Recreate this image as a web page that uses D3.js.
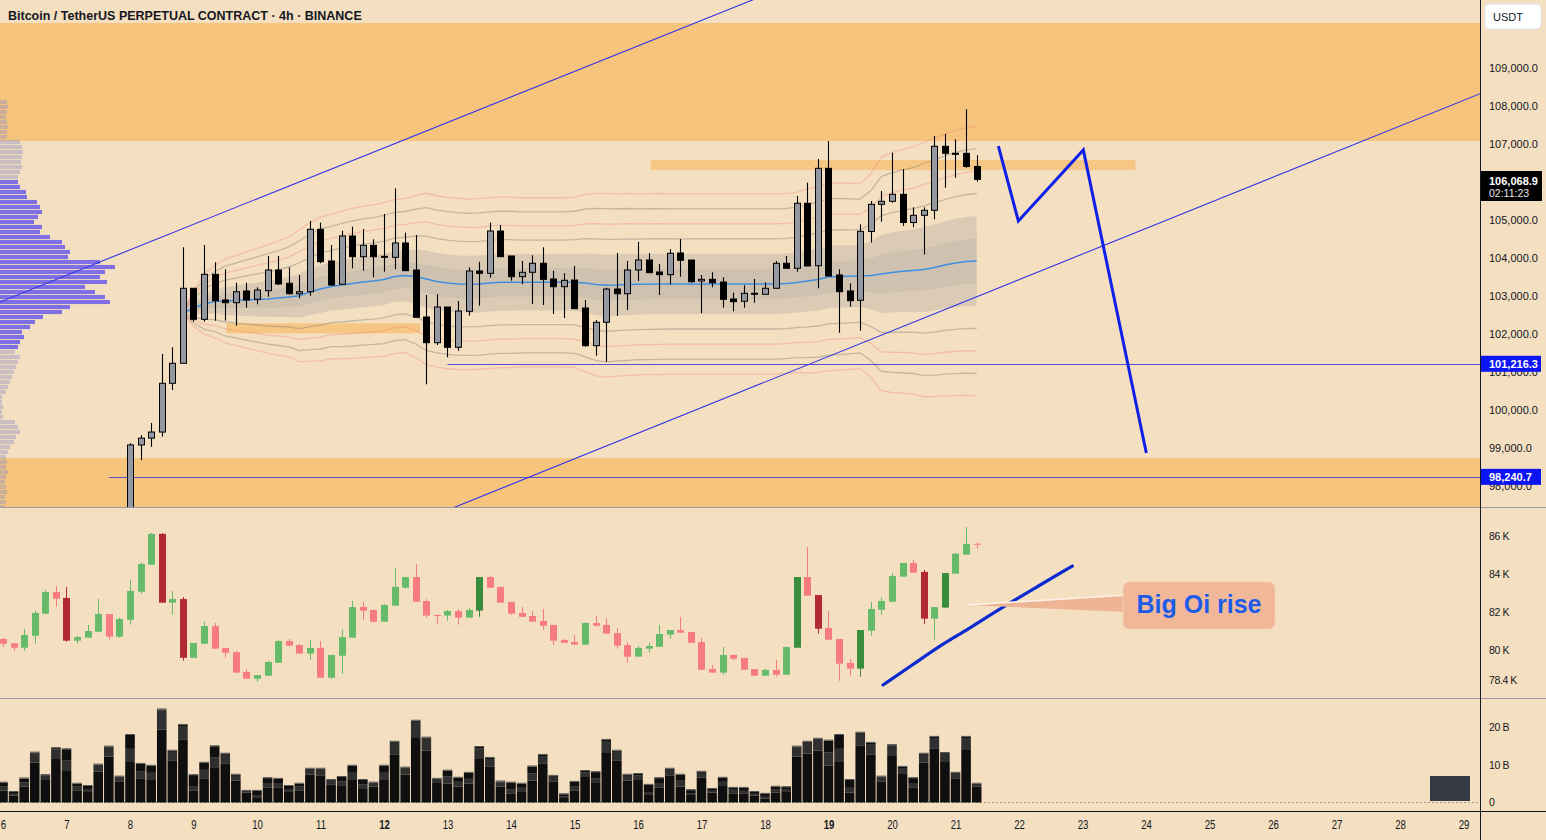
<!DOCTYPE html>
<html><head><meta charset="utf-8">
<script src="https://cdn.jsdelivr.net/npm/d3@7/dist/d3.min.js"></script>
<style>
html,body{margin:0;padding:0;background:#f4dfc1;overflow:hidden;}
svg{display:block;}
text{font-family:"Liberation Sans","DejaVu Sans",sans-serif;}
</style></head><body>
<svg id="c" width="1546" height="840"></svg>
<script>
// ---------------- DATA ----------------
const title = "Bitcoin / TetherUS PERPETUAL CONTRACT · 4h · BINANCE";
const dayLabels = [6,7,8,9,10,11,12,13,14,15,16,17,18,19,20,21,22,23,24,25,26,27,28,29];
const boldDays = [12,19];
const barsPerDay = 6;               // 4h bars, bar 0 = day 6 00:00
const priceTicks = [98000,99000,100000,101000,102000,103000,104000,105000,106000,107000,108000,109000];
const oiTicks = [78.4,80,82,84,86];
const volTicks = [0,10,20];

// price candles start at bar 12 (day 8 00:00)
const priceStart = 12;
const pOpen  = [97300,99080,99260,99420,100703,101229,103203,102387,103571,102895,102824,103132,102913,103139,103684,103334,103060,103113,104755,103921,103308,104579,104034,104334,104045,104018,104395,103684,102447,101771,102710,101650,102597,103658,103597,104710,104053,103508,103624,103861,103447,103245,103421,102684,101692,102308,103184,103060,103684,103947,103632,103561,104132,103947,103395,103439,103368,102921,102861,103071,103045,103203,103861,103729,105440,103797,106360,103553,103132,102887,104697,105413,105492,105676,104934,105124,105255,106940,106755,106755,106408];
const pHigh  = [99130,99340,99660,101474,101650,104282,103203,104342,103887,103703,103350,103350,103229,104053,104053,103755,103553,104974,104929,104342,104718,104824,104763,104492,105158,105834,104666,104605,103026,103045,102710,102868,103755,103903,104929,104868,104053,103921,104071,104282,103666,103597,103790,102895,102368,103218,104132,103921,104421,104132,103842,104237,104500,103947,103553,103624,103492,103087,103282,103447,103360,103921,104053,105632,105982,106605,107079,103703,103334,104887,105500,105763,106771,106342,105334,105334,107211,107263,107124,107913,106703];
const pLow   = [97200,98680,99030,99300,100526,101229,102324,102324,102350,102350,102218,102692,102782,102982,103289,103045,102940,103008,103861,103263,103308,103729,103666,103492,103640,103703,103666,102440,100676,101710,101387,101560,102482,102745,103482,104034,103403,103308,102789,102763,102526,102421,102666,101666,101429,101271,102474,102632,103395,103613,103026,103308,103508,103350,102545,103229,102692,102597,102692,102824,103045,103203,103729,103640,103790,103203,103526,102034,102718,102087,104408,104955,105455,104842,104808,104092,105018,105850,106113,106376,106008];
const pClose = [99080,99260,99420,100703,101229,103203,102387,103571,102876,102824,103113,102895,103158,103684,103316,103060,103113,104755,103903,103289,104579,104034,104334,104034,104040,104395,103666,102440,101771,102710,101650,102605,103658,103597,104710,104034,103508,103624,103861,103439,103245,103413,102666,101692,102308,103184,103060,103684,103947,103613,103561,104124,103940,103376,103439,103350,102913,102850,103071,103071,103203,103861,103729,105440,103790,106360,103526,103113,102876,104703,105413,105492,105676,104934,105124,105255,106940,106755,106755,106408,106069];

// anchored VWAP and its standard deviation, starting at price candle 5
const vwapStart = priceStart + 5;
const vwap = [102553,102684,102789,102855,102868,102882,102895,102908,102921,102947,102974,103008,103105,103184,103250,103289,103329,103368,103395,103434,103513,103539,103513,103447,103382,103342,103316,103308,103316,103342,103360,
  103360,103360,103360,103360,103360,103360,103360,
  103342,103303,103282,103289,103303,103308,103311,
  103316,103316,103316,103316,103316,103316,103316,103316,103316,103316,103316,103316,
  103329,103355,103395,103434,103500,103513,103518,103526,103539,103579,103618,103650,103671,103697,103750,103816,103868,103908,103921];
const vwapSigma = [0,79,132,158,184,197,211,224,237,250,263,289,303,316,316,324,329,332,334,337,337,337,355,376,376,376,376,374,374,374,374,374,371,371,371,371,371,374,389,400,403,400,400,397,397,397,
  395,395,395,395,395,395,395,395,395,395,395,395,
  395,403,408,411,411,408,405,447,513,526,534,542,558,566,574,582,587,592];
const shadeMult = [2,1];
const lineMultGray = [3,5];
const lineMultPink = [4,6];

// open interest candles (thousands), from bar 0
const oiOpen  = [80.58,80.35,80.12,80.75,81.91,83.05,82.74,80.49,80.65,80.96,81.89,80.70,81.59,83.07,84.49,86.11,82.49,82.68,79.59,80.33,81.26,80.11,79.89,78.84,78.49,78.65,79.33,80.47,80.26,79.81,80.11,78.54,79.70,80.65,82.26,82.11,81.49,82.33,83.28,83.84,82.58,81.84,81.81,82.05,81.70,82.07,83.84,83.32,82.53,81.95,81.79,81.53,81.32,80.53,80.42,80.28,81.42,81.32,80.89,80.26,79.65,80.07,80.17,80.81,81.05,80.95,80.42,79.00,78.81,79.74,79.58,79.00,78.65,78.95,78.70,80.12,83.84,82.89,81.16,80.58,79.32,79.02,81.02,82.12,82.54,83.86,84.58,84.11,81.65,82.23,84.02,85.02,85.59];
const oiHigh  = [80.63,80.35,81.11,82.05,83.16,83.37,83.32,80.74,81.32,82.68,81.89,81.70,83.68,84.59,86.16,86.16,83.11,82.79,80.37,81.47,81.42,80.11,79.96,79.00,78.68,79.42,80.53,80.58,80.32,80.53,80.47,79.74,81.05,82.58,82.53,82.11,82.42,84.32,83.84,84.53,82.68,81.89,82.11,82.16,82.21,83.84,83.89,83.32,82.53,82.26,82.05,82.16,81.32,80.59,80.79,81.47,81.79,81.68,81.16,80.42,80.21,80.37,81.32,81.05,81.74,80.95,80.63,79.21,80.16,79.74,79.58,79.00,79.00,79.47,80.16,83.84,85.42,82.89,82.05,80.58,79.53,81.05,82.53,82.74,84.05,84.58,84.74,84.21,82.26,84.05,85.12,86.47,85.65];
const oiLow   = [80.16,79.96,79.96,80.33,81.91,82.28,80.44,80.33,80.65,80.96,80.54,80.65,81.33,82.96,84.49,82.49,81.86,79.44,79.59,80.33,80.07,79.59,78.81,78.49,78.33,78.65,79.33,80.23,79.81,79.49,78.54,78.49,78.75,80.65,81.59,81.44,81.49,82.33,83.23,82.54,81.70,81.38,81.54,81.33,81.70,81.75,83.28,82.49,81.86,81.75,81.49,81.07,80.26,80.38,80.28,80.28,81.23,80.86,80.07,79.33,79.65,79.86,80.17,80.59,80.91,80.38,78.96,78.81,78.70,79.49,78.96,78.65,78.65,78.59,78.70,80.12,82.86,80.86,80.54,78.38,78.65,78.59,80.75,81.86,82.54,83.86,84.07,81.38,80.54,82.23,84.02,85.02,85.33];
const oiClose = [80.33,80.12,80.79,81.95,83.05,82.70,80.49,80.68,81.00,81.89,80.70,81.63,83.11,84.53,86.11,82.49,82.68,79.59,80.37,81.26,80.07,79.86,78.81,78.49,78.68,79.37,80.47,80.23,79.81,80.11,78.54,79.74,80.68,82.26,82.07,81.49,82.37,83.32,83.84,82.54,81.81,81.81,82.05,81.70,82.11,83.84,83.28,82.49,81.91,81.75,81.49,81.28,80.49,80.38,80.28,81.42,81.28,80.86,80.23,79.65,80.11,80.21,80.84,81.05,80.91,80.38,78.96,78.81,79.74,79.54,78.96,78.65,78.95,78.70,80.16,83.84,82.86,81.12,80.54,79.28,79.02,81.05,82.16,82.58,83.89,84.58,84.07,81.65,82.26,84.05,85.07,85.58,85.54];
const oiStrongChange = 1.7;

// volume (billions), stacked in three parts, from bar 0
const volBase = [3.2,1.8,4.2,10.6,6.0,11.6,8.4,3.1,2.8,8.2, 12.2,5.5,10.8,6.3,6.0,19.4,11.1,16.7,3.1,6.3, 9.2,10.3,5.8,2.6,1.2,3.9,3.9,2.8,3.1,7.4, 7.1,4.7,4.4,6.0,3.6,4.2,6.0,12.7,7.4,17.2, 13.8,5.2,5.0,4.2,5.0,11.6,9.5,4.2,2.3,2.8, 5.8,10.3,5.5,1.2,3.1,6.8,5.2,13.2,11.1,5.8, 6.0,2.0,3.9,7.1,4.2,2.0,6.6,2.6,4.4,2.3, 2.3,1.8,1.0,2.6,2.8,12.2,13.0,13.8,9.8,10.8, 2.6,15.1,12.7,5.5,12.4,7.6,3.9,10.6,14.3,10.8, 6.3,14.0,4.2];
const volMid  = [1.0,0.5,1.1,2.4,1.3,2.6,2.9,1.1,0.8,1.9, 2.4,1.1,3.5,1.9,1.9,5.1,2.4,3.7,1.3,2.4, 2.9,2.4,1.3,0.5,0.8,1.3,1.3,0.8,1.1,1.6, 1.9,1.3,1.3,1.9,1.3,1.1,1.9,3.2,1.6,4.3, 3.2,1.1,1.9,1.3,1.3,2.9,2.1,1.1,1.1,1.1, 1.9,2.1,1.6,0.5,1.3,1.3,1.3,3.2,2.4,1.3, 1.3,0.8,1.3,1.6,1.6,0.5,1.3,0.5,1.1,1.3, 0.8,0.5,0.5,0.8,0.8,2.4,2.9,3.2,3.5,3.5, 1.3,3.2,2.9,1.1,2.9,1.6,1.3,2.1,2.9,2.4, 1.6,3.2,0.8];
const volTop  = [1.1,0.5,1.1,0.3,0,0.3,2.9,0.8,0.8,0, 0.3,0.3,3.7,2.1,1.9,0.3,0.3,0.3,2.9,1.9, 2.9,0.3,0.3,0,1.1,1.3,1.1,0.8,0.8,0, 0,0,1.1,1.9,1.1,0,1.9,0.3,0.3,0.3, 0.3,0,1.6,1.1,1.6,0.3,0.3,0.3,1.9,1.1, 1.9,0.3,0,0.5,1.1,0.3,1.6,0.3,0.3,0.3, 0.3,1.9,1.3,0.3,1.6,0.8,0.3,0.5,1.1,0.3, 0.8,0.5,0.8,0.8,0.5,0.3,0.3,0,3.2,3.7, 2.1,0.3,0.3,0.3,0,0.3,1.3,0.3,0.3,0, 0,0.3,0];

// visible-range volume profile (rows from top price downwards)
const profileTop = 108160, profileStep = 131.6;
const profileVol = [7,8,7,6,7,8,7,7, 20,22,23,22,21,22,20,18, 18,20,26,27, 37,40,42,38, 34,42,40, 50,62,65, 70,68, 100,115, 105,100,107, 85,95, 105,110, 70,62, 43,35,30, 22,24,20,18, 15,20,18,16,14,12,10,8,6, 2,2,3,2,3, 15,18,20,16,14, 10,8,6, 7,6,8,6,5,6,7,5,6,5];
const valueAreaHigh = 106105, valueAreaLow = 101579;

// zones (price ranges, bar ranges)
const zoneTop    = [110184, 98737, 106579, 102282];
const zoneBottom = [107079, 97000, 106316, 102018];
const zoneFrom   = [-2, -2, 61.2, 21.1];
const zoneTo     = [140, 140, 107, 39.4];

// horizontal levels
const levelPrice = [101216.3, 98240.7];
const levelFrom  = [42, 10];

// trend lines: two anchors each (bar, price)
const trendA = [[-0.28,102842],[70.8,110789]];
const trendB = [[42.72,97447],[139.5,108316]];

// projected path (bar, price)
const projPath = [[94.05,106947],[95.94,104974],[102.08,106842],[108.03,98868]];
// drawn OI rise line (bar, OI K)
const oiRise = [[83.15,78.16],[86.36,79.38],[88.88,80.35],[91.09,81.05],[94.23,82.19],[98.0,83.42],[101.04,84.42]];

const lastPrice = 106068.9, countdown = "02:11:23";

// ---------------- DRAW ----------------
const W = 1546, H = 840, PR = 1480;
const BG = '#f4dfc1', TXT = '#131722';
const svg = d3.select('#c');

const xBar = d3.scaleLinear().domain([0, 138]).range([3, 3 + 138 * 10.5833]);
const yP = d3.scaleLinear().domain([98000, 109000]).range([486, 68]);
const yOI = d3.scaleLinear().domain([80, 86]).range([650, 536]);
const yV = d3.scaleLinear().domain([0, 20]).range([802.5, 727.5]);
const xProf = d3.scaleLinear().domain([0, 120]).range([0, 120]);

svg.append('rect').attr('width', W).attr('height', H).attr('fill', BG);

const defs = svg.append('defs');
defs.append('clipPath').attr('id', 'cm').append('rect').attr('x', 0).attr('y', 0).attr('width', PR).attr('height', 507);
defs.append('clipPath').attr('id', 'co').append('rect').attr('x', 0).attr('y', 508).attr('width', PR).attr('height', 190);
defs.append('clipPath').attr('id', 'cv').append('rect').attr('x', 0).attr('y', 699).attr('width', PR).attr('height', 112);

// ---- main pane
const gm = svg.append('g').attr('clip-path', 'url(#cm)');

zoneTop.forEach((t, k) => {
  gm.append('rect')
    .attr('x', xBar(zoneFrom[k])).attr('width', xBar(zoneTo[k]) - xBar(zoneFrom[k]))
    .attr('y', yP(t)).attr('height', yP(zoneBottom[k]) - yP(t))
    .attr('fill', '#f6c47d').attr('opacity', k < 2 ? 1 : 0.9);
});

// volume profile
profileVol.forEach((v, k) => {
  const pHi = profileTop - k * profileStep, pLo = pHi - profileStep;
  const mid = (pHi + pLo) / 2;
  const inVA = mid <= valueAreaHigh && mid >= valueAreaLow;
  gm.append('rect').attr('x', 0).attr('y', yP(pHi))
    .attr('width', xProf(v)).attr('height', Math.max(0.5, yP(pLo) - yP(pHi) - 0.9))
    .attr('fill', inVA ? 'rgba(105,92,235,0.85)' : 'rgba(150,150,195,0.45)');
});

// VWAP bands
const vIdx = d3.range(vwap.length);
const area = (m) => d3.area().x(k => xBar(vwapStart + k)).y0(k => yP(vwap[k] - m * vwapSigma[k])).y1(k => yP(vwap[k] + m * vwapSigma[k]));
gm.append('path').attr('d', area(shadeMult[0])(vIdx)).attr('fill', 'rgba(95,105,125,0.17)');
gm.append('path').attr('d', area(shadeMult[1])(vIdx)).attr('fill', 'rgba(95,105,125,0.10)');
const bandLine = (m) => d3.line().x(k => xBar(vwapStart + k)).y(k => yP(vwap[k] + m * vwapSigma[k]));
lineMultGray.forEach(m => [m, -m].forEach(mm => gm.append('path').attr('d', bandLine(mm)(vIdx)).attr('fill', 'none').attr('stroke', 'rgba(110,105,100,0.35)').attr('stroke-width', 1.3)));
lineMultPink.forEach(m => [m, -m].forEach(mm => gm.append('path').attr('d', bandLine(mm)(vIdx)).attr('fill', 'none').attr('stroke', 'rgba(240,120,110,0.32)').attr('stroke-width', 1.3)));
gm.append('path').attr('d', bandLine(0)(vIdx)).attr('fill', 'none').attr('stroke', '#3d8fe0').attr('stroke-width', 1.6);

// horizontal levels
levelPrice.forEach((p, k) => {
  gm.append('line').attr('x1', xBar(levelFrom[k])).attr('x2', PR)
    .attr('y1', Math.round(yP(p)) + 0.5).attr('y2', Math.round(yP(p)) + 0.5)
    .attr('stroke', '#5a4fd0').attr('stroke-width', 1);
});

// candles
pOpen.forEach((o, i) => {
  const c = pClose[i], cx = Math.round(xBar(priceStart + i)) + 0.5;
  const up = c >= o;
  gm.append('line').attr('x1', cx).attr('x2', cx).attr('y1', yP(pHigh[i])).attr('y2', yP(pLow[i]))
    .attr('stroke', '#000').attr('stroke-width', 1.1);
  const yt = yP(Math.max(o, c)), yb = yP(Math.min(o, c));
  gm.append('rect').attr('x', cx - 3).attr('width', 6)
    .attr('y', yt).attr('height', Math.max(1, yb - yt))
    .attr('fill', up ? '#9598a1' : '#000').attr('stroke', '#000').attr('stroke-width', 1);
});

// trend lines (extended)
function extLine(a, g, color) {
  const x1 = xBar(a[0][0]), y1 = yP(a[0][1]), x2 = xBar(a[1][0]), y2 = yP(a[1][1]);
  const s = (y2 - y1) / (x2 - x1);
  g.append('line').attr('x1', -10).attr('y1', y1 + s * (-10 - x1)).attr('x2', PR + 10).attr('y2', y1 + s * (PR + 10 - x1))
    .attr('stroke', color).attr('stroke-width', 1.1);
}
extLine(trendA, gm, '#3535e6');
extLine(trendB, gm, '#3535e6');

// projected path
gm.append('path').attr('d', d3.line().x(d => xBar(d[0])).y(d => yP(d[1]))(projPath))
  .attr('fill', 'none').attr('stroke', '#1020e8').attr('stroke-width', 3).attr('stroke-linejoin', 'miter');

// ---- OI pane
const go = svg.append('g').attr('clip-path', 'url(#co)');
oiOpen.forEach((o, j) => {
  const c = oiClose[j], cx = Math.round(xBar(j)) + 0.5, up = c >= o;
  const strong = Math.abs(c - o) >= oiStrongChange;
  const col = up ? (strong ? '#388e3c' : '#66bb6a') : (strong ? '#b22833' : '#f77c80');
  go.append('line').attr('x1', cx).attr('x2', cx).attr('y1', yOI(oiHigh[j])).attr('y2', yOI(oiLow[j]))
    .attr('stroke', col).attr('stroke-width', 1);
  const yt = yOI(Math.max(o, c)), yb = yOI(Math.min(o, c));
  go.append('rect').attr('x', cx - 3.5).attr('width', 7).attr('y', yt).attr('height', Math.max(1, yb - yt)).attr('fill', col);
});
go.append('path').attr('d', d3.line().curve(d3.curveBasis).x(d => xBar(d[0])).y(d => yOI(d[1]))(oiRise))
  .attr('fill', 'none').attr('stroke', '#0b2bd0').attr('stroke-width', 3.2).attr('stroke-linecap', 'round');

// callout
const calX = 1123, calY = 582, calW = 152, calH = 47;
const tipX = xBar(91.05), tipY = yOI(82.37);
svg.append('path').attr('d', `M${tipX},${tipY} L${calX + 4},${calY + 13} L${calX + 4},${calY + 30} Z`).attr('fill', '#eeb595');
svg.append('line').attr('x1', tipX).attr('y1', tipY).attr('x2', calX + 4).attr('y2', calY + 13).attr('stroke', '#fff3ea').attr('stroke-width', 1.5);
svg.append('rect').attr('x', calX).attr('y', calY).attr('width', calW).attr('height', calH).attr('rx', 6)
  .attr('fill', '#f0b898').attr('stroke', '#f6cdb4').attr('stroke-width', 1);
svg.append('text').attr('x', calX + calW / 2).attr('y', calY + calH / 2 + 1).attr('text-anchor', 'middle').attr('dominant-baseline', 'middle')
  .attr('font-family', '"Open Sans",sans-serif').attr('font-size', 25).attr('font-weight', 600).attr('fill', '#1d5ce8').text('Big Oi rise');

// ---- volume pane
const gv = svg.append('g').attr('clip-path', 'url(#cv)');
gv.append('line').attr('x1', 0).attr('x2', PR).attr('y1', 802.5).attr('y2', 802.5)
  .attr('stroke', '#888').attr('stroke-width', 1).attr('stroke-dasharray', '1.5,2.5');
volBase.forEach((b, j) => {
  const cx = xBar(j), m = volMid[j], t = volTop[j];
  const x = cx - 4.8, w = 9.6;
  gv.append('rect').attr('x', x).attr('width', w).attr('y', yV(b)).attr('height', yV(0) - yV(b)).attr('fill', '#0f0f0f');
  gv.append('rect').attr('x', x).attr('width', w).attr('y', yV(b + m)).attr('height', yV(b) - yV(b + m)).attr('fill', '#2f2f2f');
  gv.append('rect').attr('x', x).attr('width', w).attr('y', yV(b + m + t)).attr('height', yV(b + m) - yV(b + m + t)).attr('fill', '#0f0f0f');
  gv.append('rect').attr('x', x).attr('width', w).attr('y', yV(b + m + t) - 1).attr('height', 1).attr('fill', '#555');
});
svg.append('rect').attr('x', 1430).attr('y', 776).attr('width', 40).attr('height', 25).attr('fill', '#363a45');

// ---- separators & axis borders
svg.append('line').attr('x1', 0).attr('x2', W).attr('y1', 507.5).attr('y2', 507.5).attr('stroke', '#9a9aa6');
svg.append('line').attr('x1', 0).attr('x2', W).attr('y1', 698.5).attr('y2', 698.5).attr('stroke', '#9a9aa6');
svg.append('line').attr('x1', 0).attr('x2', W).attr('y1', 811.5).attr('y2', 811.5).attr('stroke', '#131722');
svg.append('line').attr('x1', PR + 0.5).attr('x2', PR + 0.5).attr('y1', 0).attr('y2', H).attr('stroke', '#131722');

// ---- axes
function styleAxis(g, size) {
  g.select('.domain').remove();
  g.selectAll('.tick line').remove();
  g.selectAll('text').attr('fill', TXT).attr('font-size', size).attr('font-family', '"Liberation Sans",sans-serif');
}
const axP = svg.append('g').attr('transform', `translate(${PR},0)`)
  .call(d3.axisRight(yP).tickValues(priceTicks).tickFormat(d3.format(',.1f')).tickSize(0).tickPadding(9));
styleAxis(axP, 11);

const axO = svg.append('g').attr('transform', `translate(${PR},0)`)
  .call(d3.axisRight(yOI).tickValues(oiTicks).tickFormat(d => (d % 1 ? d.toFixed(1) : d) + ' K').tickSize(0).tickPadding(9));
styleAxis(axO, 10.5);
axO.selectAll('text').attr('font-family', '"DejaVu Sans",sans-serif').attr('font-stretch', 'condensed').attr('letter-spacing', -0.4);

const axV = svg.append('g').attr('transform', `translate(${PR},0)`)
  .call(d3.axisRight(yV).tickValues(volTicks).tickFormat(d => d === 0 ? '0' : d + ' B').tickSize(0).tickPadding(9));
styleAxis(axV, 10.5);
axV.selectAll('text').attr('font-family', '"DejaVu Sans",sans-serif').attr('font-stretch', 'condensed').attr('letter-spacing', -0.4);

const axX = svg.append('g').attr('transform', 'translate(0,811)')
  .call(d3.axisBottom(xBar).tickValues(dayLabels.map(d => (d - dayLabels[0]) * barsPerDay))
    .tickFormat((v, i) => dayLabels[i]).tickSize(0).tickPadding(9));
styleAxis(axX, 12);
axX.selectAll('text').attr('font-family', '"DejaVu Sans",sans-serif').attr('font-stretch', 'condensed')
  .attr('transform', 'scale(0.8,1)')
  .attr('font-weight', (v, i) => boldDays.includes(dayLabels[i]) ? 'bold' : 'normal');

// ---- price labels
svg.append('rect').attr('x', 1485).attr('y', 4).attr('width', 56).attr('height', 25).attr('rx', 4)
  .attr('fill', '#fff').attr('stroke', '#e0e3eb');
svg.append('text').attr('x', 1493).attr('y', 21).attr('font-size', 11).attr('fill', TXT).text('USDT');

svg.append('rect').attr('x', PR + 1).attr('y', 171).attr('width', 61).attr('height', 30).attr('fill', '#000');
svg.append('text').attr('x', 1489).attr('y', 185).attr('font-size', 11).attr('font-weight', 'bold').attr('fill', '#fff').text(d3.format(',.1f')(lastPrice));
svg.append('text').attr('x', 1489).attr('y', 197).attr('font-size', 10.5).attr('fill', '#e8e8e8').text(countdown);

levelPrice.forEach(p => {
  const y = yP(p);
  svg.append('rect').attr('x', PR + 1).attr('y', y - 8).attr('width', 60).attr('height', 16).attr('fill', '#0a14f5');
  svg.append('text').attr('x', 1489).attr('y', y + 4).attr('font-size', 11).attr('font-weight', 'bold').attr('fill', '#fff').text(d3.format(',.1f')(p));
});

// ---- title
svg.append('text').attr('x', 8).attr('y', 20).attr('font-size', 12.5).attr('font-weight', 600)
  .attr('font-family', '"Open Sans",sans-serif').attr('fill', TXT).text(title);
</script>
</body></html>
